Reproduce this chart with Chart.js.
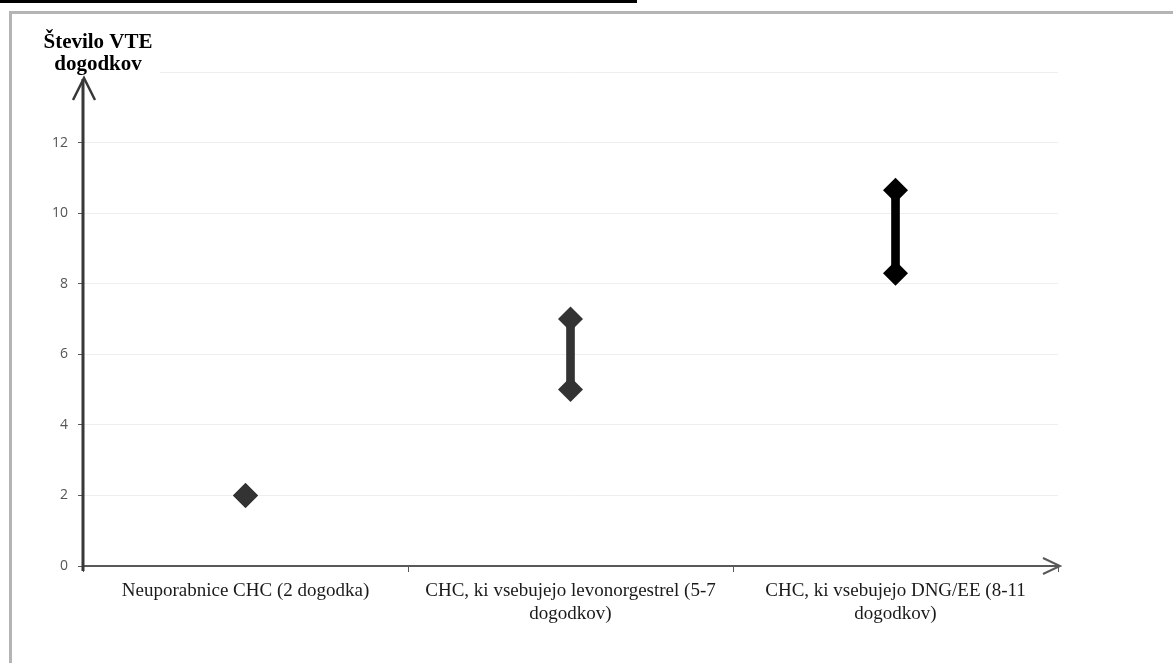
<!DOCTYPE html>
<html>
<head>
<meta charset="utf-8">
<script src="https://cdn.jsdelivr.net/npm/chart.js@4.4.1/dist/chart.umd.min.js"></script>
<style>
    html, body { margin: 0; padding: 0; background: #fff; }
    #wrap { position: relative; width: 1173px; height: 663px; overflow: hidden; }
    #topBar { position: absolute; left: 0; top: 0; width: 637px; height: 3px; background: #000; }
    #frame { position: absolute; left: 9px; top: 11px; width: 1200px; height: 700px;
             border-left: 3px solid #b4b4b4; border-top: 3px solid #b4b4b4; }
    #vteChart { position: absolute; left: 0; top: 0; }
</style>
</head>
<body>
<div id="wrap">
    <div id="topBar"></div>
    <div id="frame"></div>
    <canvas id="vteChart" width="1173" height="663"></canvas>
</div>
<script>
// data
const categories = [
    'Neuporabnice CHC (2 dogodka)',
    ['CHC, ki vsebujejo levonorgestrel (5-7', 'dogodkov)'],
    ['CHC, ki vsebujejo DNG/EE (8-11', 'dogodkov)']
];
const lowValues = [2, 5, 8.3];
const highValues = [2, 7, 10.65];
const yTicks = [0, 2, 4, 6, 8, 10, 12, 14];
const yTitleLines = ['Število VTE', 'dogodkov'];

const markerColors = ['#333333', '#333333', '#000000'];

// arrows on axes + the y axis title (white box hides top gridline like in the original)
const axisDecorPlugin = {
    id: 'axisDecor',
    afterDraw(chart) {
        const ctx = chart.ctx;
        const area = chart.chartArea;
        const y0 = chart.scales.y.getPixelForValue(0);
        const x0 = area.left;

        ctx.save();
        ctx.fillStyle = '#fff';
        ctx.fillRect(45, 20, 115, 57);

        ctx.fillStyle = '#000';
        ctx.font = 'bold 21px "Liberation Serif", "Times New Roman", serif';
        ctx.textAlign = 'center';
        ctx.textBaseline = 'alphabetic';
        ctx.fillText(yTitleLines[0], 98, 48);
        ctx.fillText(yTitleLines[1], 98, 70);

        // x axis
        ctx.strokeStyle = '#595959';
        ctx.lineWidth = 2;
        ctx.beginPath();
        ctx.moveTo(x0, y0);
        ctx.lineTo(area.right + 2, y0);
        ctx.stroke();
        ctx.beginPath();
        ctx.moveTo(area.right - 15, y0 - 8);
        ctx.lineTo(area.right + 2, y0);
        ctx.lineTo(area.right - 15, y0 + 8);
        ctx.stroke();

        // y axis
        ctx.strokeStyle = '#383838';
        ctx.lineWidth = 3;
        ctx.beginPath();
        ctx.moveTo(x0, y0 + 5);
        ctx.lineTo(x0, area.top + 7);
        ctx.stroke();
        ctx.lineWidth = 2.5;
        ctx.beginPath();
        ctx.moveTo(x0 - 10, area.top + 28);
        ctx.lineTo(x0 + 1, area.top + 6);
        ctx.lineTo(x0 + 12, area.top + 28);
        ctx.stroke();
        ctx.restore();
    }
};

const ctx = document.getElementById('vteChart').getContext('2d');

const vteChart = new Chart(ctx, {
    type: 'bar',
    data: {
        labels: categories,
        datasets: [
            {
                label: 'razpon',
                data: lowValues.map((v, i) => [v, highValues[i]]),
                backgroundColor: markerColors,
                barThickness: 8,
                order: 2
            },
            {
                type: 'line',
                label: 'spodaj',
                data: lowValues,
                showLine: false,
                pointStyle: 'rectRot',
                pointRadius: 12.5,
                pointHoverRadius: 12.5,
                pointBorderWidth: 0,
                pointBackgroundColor: markerColors,
                order: 1
            },
            {
                type: 'line',
                label: 'zgoraj',
                data: highValues,
                showLine: false,
                pointStyle: 'rectRot',
                pointRadius: 12.5,
                pointHoverRadius: 12.5,
                pointBorderWidth: 0,
                pointBackgroundColor: markerColors,
                order: 1
            }
        ]
    },
    options: {
        responsive: false,
        animation: false,
        layout: { padding: { left: 0, top: 72, right: 115, bottom: 0 } },
        plugins: {
            legend: { display: false },
            tooltip: { enabled: false },
            title: { display: false }
        },
        scales: {
            x: {
                type: 'category',
                offset: true,
                grid: {
                    display: true,
                    drawOnChartArea: false,
                    drawTicks: true,
                    tickLength: 6,
                    tickColor: '#595959',
                    offset: true
                },
                border: { display: false },
                ticks: {
                    color: '#1a1a1a',
                    font: { family: '"Liberation Serif", "Times New Roman", serif', size: 19, lineHeight: 1.2 },
                    padding: 8,
                    maxRotation: 0,
                    minRotation: 0,
                    autoSkip: false
                },
                afterFit: (scale) => { scale.height = 97; }
            },
            y: {
                min: yTicks[0],
                max: yTicks[yTicks.length - 1],
                afterBuildTicks: (scale) => { scale.ticks = yTicks.map(v => ({ value: v })); },
                ticks: {
                    color: '#555555',
                    font: { family: '"Open Sans", "Liberation Sans", sans-serif', size: 14 },
                    padding: 10,
                    callback: (v) => (v === 14 ? '' : v)
                },
                grid: {
                    color: '#eeeeee',
                    tickColor: '#595959',
                    tickLength: 5,
                    lineWidth: 1
                },
                border: { display: false },
                afterFit: (scale) => { scale.width = 83; }
            }
        }
    },
    plugins: [axisDecorPlugin]
});
</script>
</body>
</html>
